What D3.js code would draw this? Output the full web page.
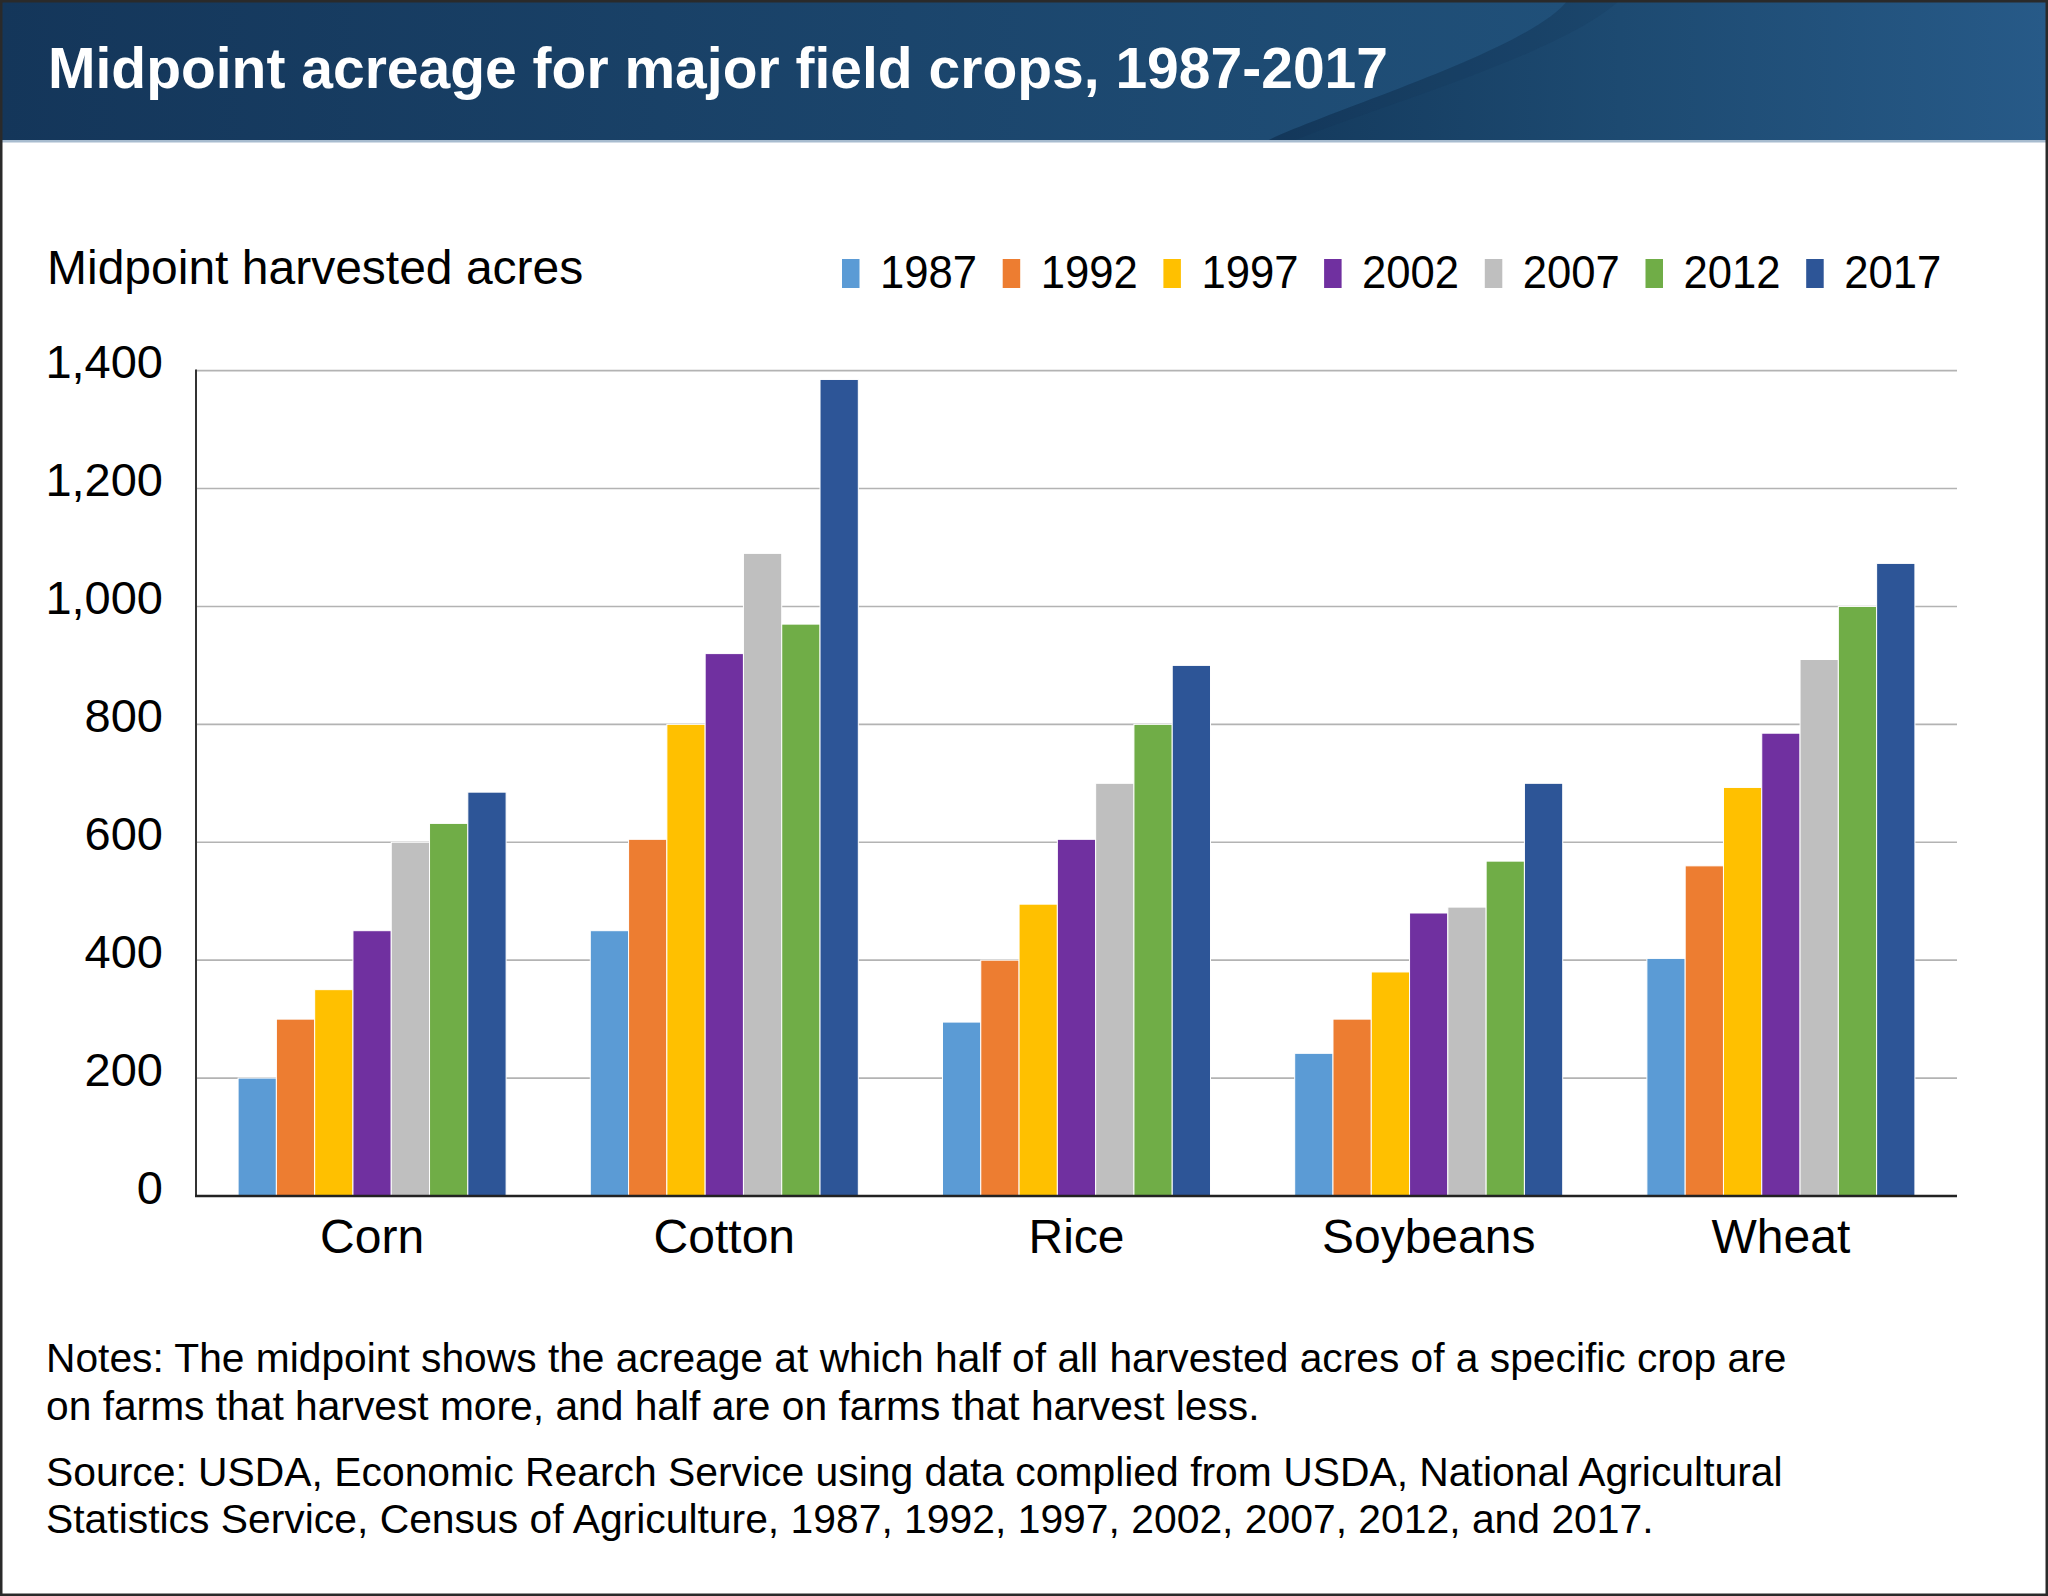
<!DOCTYPE html>
<html>
<head>
<meta charset="utf-8">
<script src="https://cdn.jsdelivr.net/npm/d3@7"></script>
<style>
  html, body { margin: 0; padding: 0; background: #fff; }
  svg { display: block; }
  text { font-family: "Liberation Sans", Arial, Helvetica, sans-serif; }
</style>
</head>
<body>
<svg id="chart" width="2048" height="1596"></svg>
<script>
// ---- Data ----
const title = "Midpoint acreage for major field crops, 1987-2017";
const yAxisTitle = "Midpoint harvested acres";
const crops = ["Corn", "Cotton", "Rice", "Soybeans", "Wheat"];
const years = ["1987", "1992", "1997", "2002", "2007", "2012", "2017"];
const v1987 = [200, 450, 295, 242, 403];
const v1992 = [300, 605, 400, 300, 560];
const v1997 = [350, 800, 495, 380, 693];
const v2002 = [450, 920, 605, 480, 785];
const v2007 = [600, 1090, 700, 490, 910];
const v2012 = [632, 970, 800, 568, 1000];
const v2017 = [685, 1385, 900, 700, 1073];
const seriesValues = [v1987, v1992, v1997, v2002, v2007, v2012, v2017];
const yTicks = [0, 200, 400, 600, 800, 1000, 1200, 1400];
const colors = ["#5B9BD5", "#ED7D31", "#FFC000", "#7030A0", "#BFBFBF", "#70AD47", "#2D5597"];
const notes = [
  "Notes: The midpoint shows the acreage at which half of all harvested acres of a specific crop are",
  "on farms that harvest more, and half are on farms that harvest less."
];
const source = [
  "Source: USDA, Economic Rearch Service using data complied from USDA, National Agricultural",
  "Statistics Service, Census of Agriculture, 1987, 1992, 1997, 2002, 2007, 2012, and 2017."
];

// ---- Layout ----
const W = 2048, H = 1596;
const svg = d3.select("#chart");
const defs = svg.append("defs");

// Banner gradients
const gradL = defs.append("linearGradient").attr("id", "bannerL")
  .attr("gradientUnits", "userSpaceOnUse").attr("x1", 0).attr("x2", 1570).attr("y1", 0).attr("y2", 0);
gradL.append("stop").attr("offset", "0%").attr("stop-color", "#14365a");
gradL.append("stop").attr("offset", "100%").attr("stop-color", "#205079");
const gradR = defs.append("linearGradient").attr("id", "bannerR")
  .attr("gradientUnits", "userSpaceOnUse").attr("x1", 1270).attr("x2", 2048).attr("y1", 0).attr("y2", 0);
gradR.append("stop").attr("offset", "0%").attr("stop-color", "#143a5d");
gradR.append("stop").attr("offset", "45%").attr("stop-color", "#1d4a71");
gradR.append("stop").attr("offset", "100%").attr("stop-color", "#275a88");

svg.append("rect").attr("x", 0).attr("y", 0).attr("width", W).attr("height", 141)
  .attr("fill", "url(#bannerL)");
// right region behind the swoosh curve
svg.append("path")
  .attr("d", "M1267,141 C1330,110 1530,50 1568,0 L2048,0 L2048,141 Z")
  .attr("fill", "url(#bannerR)");
// faint second curve band
svg.append("path")
  .attr("d", "M1267,141 C1330,110 1530,50 1568,0 L1620,0 C1560,55 1380,105 1293,141 Z")
  .attr("fill", "#0d2d4d").attr("opacity", 0.12);
svg.append("rect").attr("x", 0).attr("y", 140).attr("width", W).attr("height", 2.5)
  .attr("fill", "#a8bccf");

svg.append("text")
  .attr("x", 48).attr("y", 88)
  .attr("fill", "#ffffff")
  .attr("font-size", 57).attr("font-weight", "bold")
  .attr("textLength", 1340).attr("lengthAdjust", "spacingAndGlyphs")
  .text(title);

// ---- Scales ----
const plotLeft = 196, plotRight = 1957, plotTop = 370.6, plotBottom = 1196;
const x0 = d3.scaleBand().domain(crops).range([plotLeft, plotRight])
  .paddingInner(0.239).paddingOuter(0.1195);
const x1 = d3.scaleBand().domain(years).range([0, x0.bandwidth()]).padding(0);
const y = d3.scaleLinear().domain([0, 1400]).range([plotBottom, plotTop]);

// gridlines
svg.append("g").selectAll("line").data(yTicks.filter(d => d > 0)).join("line")
  .attr("x1", plotLeft).attr("x2", plotRight)
  .attr("y1", d => y(d)).attr("y2", d => y(d))
  .attr("stroke", "#b3b3b3").attr("stroke-width", 1.6);

// y tick labels via axis
const yAxis = d3.axisLeft(y).tickValues(yTicks).tickSize(0).tickPadding(0)
  .tickFormat(d3.format(","));
const yg = svg.append("g").attr("transform", `translate(${plotLeft - 33},0)`).call(yAxis);
yg.select(".domain").remove();
yg.selectAll("text")
  .attr("font-size", 47).attr("fill", "#000")
  .attr("font-family", "'Liberation Sans', Arial, Helvetica, sans-serif")
  .attr("dy", "0.32em").attr("y", -8);

// bars
const groups = svg.append("g").selectAll("g").data(crops).join("g")
  .attr("transform", d => `translate(${x0(d)},0)`);
groups.selectAll("rect")
  .data((c, ci) => years.map((yr, yi) => ({ yr, yi, v: seriesValues[yi][ci] })))
  .join("rect")
  .attr("x", d => x1(d.yr))
  .attr("width", x1.bandwidth())
  .attr("y", d => y(d.v))
  .attr("height", d => y(0) - y(d.v))
  .attr("fill", d => colors[d.yi])
  .attr("stroke", "#ffffff").attr("stroke-width", 1);

// axes lines
svg.append("line").attr("x1", plotLeft).attr("x2", plotLeft)
  .attr("y1", plotTop - 1).attr("y2", plotBottom + 1)
  .attr("stroke", "#333").attr("stroke-width", 2);
svg.append("line").attr("x1", plotLeft - 1).attr("x2", plotRight)
  .attr("y1", plotBottom).attr("y2", plotBottom)
  .attr("stroke", "#222").attr("stroke-width", 2.5);

// x category labels via axis
const xAxis = d3.axisBottom(x0).tickSize(0).tickPadding(0);
const xg = svg.append("g").attr("transform", `translate(0,${plotBottom})`).call(xAxis);
xg.select(".domain").remove();
xg.selectAll("text")
  .attr("font-size", 48).attr("fill", "#000")
  .attr("font-family", "'Liberation Sans', Arial, Helvetica, sans-serif")
  .attr("dy", 0).attr("y", 57);

// y axis title
svg.append("text").attr("x", 47).attr("y", 284)
  .attr("font-size", 48).attr("fill", "#000")
  .text(yAxisTitle);

// legend
const lg = d3.scaleBand().domain(years).range([842, 842 + 7 * 160.7]);
const li = svg.append("g").selectAll("g").data(years).join("g")
  .attr("transform", d => `translate(${lg(d)},0)`);
li.append("rect").attr("x", 0).attr("y", 259).attr("width", 17.5).attr("height", 29)
  .attr("fill", (d, i) => colors[i]);
li.append("text").attr("x", 38).attr("y", 288)
  .attr("font-size", 46).attr("fill", "#000")
  .attr("textLength", 97).attr("lengthAdjust", "spacingAndGlyphs")
  .text(d => d);

// notes & source
const noteY = [1371.7, 1420];
const srcY = [1485.7, 1533];
const noteEls = notes.map((t, i) => svg.append("text").attr("x", 46).attr("y", noteY[i])
  .attr("font-size", 40).attr("fill", "#000").text(t));
const srcEls = source.map((t, i) => svg.append("text").attr("x", 46).attr("y", srcY[i])
  .attr("font-size", 40).attr("fill", "#000").text(t));
// fit first line of each block to the reference width, share size within a block
function fitBlock(els, target) {
  const w = els[0].node().getComputedTextLength();
  const fs = Math.min(Math.max(40 * target / w, 36), 44);
  els.forEach(e => e.attr("font-size", fs));
}
fitBlock(noteEls, 1741);
fitBlock(srcEls, 1737);

// frame
svg.append("rect").attr("x", 1).attr("y", 1).attr("width", W - 2).attr("height", H - 2)
  .attr("fill", "none").attr("stroke", "#2a2a2a").attr("stroke-width", 3);
</script>
</body>
</html>
